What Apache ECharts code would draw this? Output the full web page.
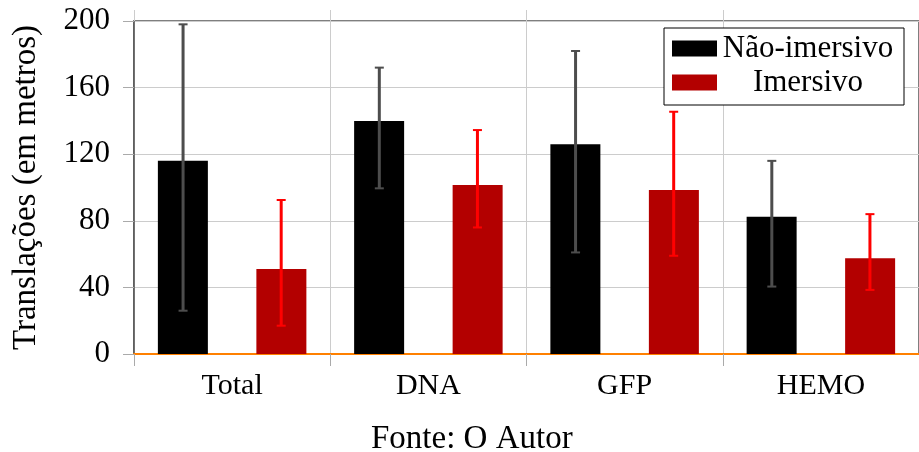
<!DOCTYPE html>
<html>
<head>
<meta charset="utf-8">
<script src="https://cdn.jsdelivr.net/npm/echarts@6/dist/echarts.min.js"></script>
<style>
  html, body { margin: 0; padding: 0; background: #fff; }
  #chart { width: 919px; height: 452px; }
</style>
</head>
<body>
<div id="chart"></div>
<script>
// categorias e valores
var categorias = ['Total', 'DNA', 'GFP', 'HEMO']
var naoImersivo = [116, 140, 126, 82.5]
var naoImersivoMin = [26, 99.5, 61, 40.5]
var naoImersivoMax = [198, 172, 182, 116]
var imersivo = [51, 101.5, 98.5, 57.5]
var imersivoMin = [17, 76, 59, 38.5]
var imersivoMax = [92.5, 134.5, 145.5, 84]
var yTicks = [0, 40, 80, 120, 160, 200]

var fonte = "'Liberation Serif', 'Times New Roman', serif"

function erroData (lo, hi) {
  var out = []
  for (var i = 0; i < categorias.length; i++) {
    out.push([i, lo[i], hi[i]])
  }
  return out
}

// barras de erro desenhadas com a escala do eixo
function barraErro (lado, cor) {
  return function (params, api) {
    var banda = api.size([1, 0])[0]
    var x = api.coord([api.value(0), 0])[0] + lado * banda * 0.25
    var yLo = api.coord([api.value(0), api.value(1)])[1]
    var yHi = api.coord([api.value(0), api.value(2)])[1]
    var cap = 4.5
    var estilo = { stroke: cor, lineWidth: 3 }
    var estiloCap = { stroke: cor, lineWidth: 2 }
    return {
      type: 'group',
      children: [
        { type: 'line', shape: { x1: x, y1: yLo, x2: x, y2: yHi }, style: estilo },
        { type: 'line', shape: { x1: x - cap, y1: yHi, x2: x + cap, y2: yHi }, style: estiloCap },
        { type: 'line', shape: { x1: x - cap, y1: yLo, x2: x + cap, y2: yLo }, style: estiloCap }
      ]
    }
  }
}

var chart = echarts.init(document.getElementById('chart'))
var option = {
  animation: false,
  textStyle: { fontFamily: fonte },
  title: {
    text: 'Fonte: O Autor',
    left: 366,
    top: 418,
    textStyle: { fontFamily: fonte, fontSize: 33, fontWeight: 'normal', color: '#000' }
  },
  grid: {
    left: 134,
    top: 21,
    right: -3,
    bottom: 98,
    show: true,
    borderColor: '#555',
    borderWidth: 1.5,
    backgroundColor: 'transparent'
  },
  legend: {
    orient: 'vertical',
    left: 664,
    top: 28,
    padding: [5, 8, 7, 8],
    itemGap: 3,
    itemWidth: 45,
    itemHeight: 16,
    itemStyle: { borderWidth: 0 },
    backgroundColor: '#fff',
    borderColor: '#000',
    borderWidth: 1,
    borderRadius: 0,
    icon: 'rect',
    formatter: function (name) { return '{t|' + name + '}' },
    textStyle: {
      fontFamily: fonte,
      fontSize: 31,
      color: '#000',
      padding: [0, 0, 0, -2],
      rich: { t: { width: 176, align: 'center', fontSize: 31, lineHeight: 29, fontFamily: fonte } }
    },
    data: ['Não-imersivo', 'Imersivo']
  },
  xAxis: [
    {
      type: 'category',
      data: categorias,
      axisLine: { show: true, lineStyle: { color: '#ff8000', width: 2 } },
      axisTick: { show: true, length: 12, lineStyle: { color: '#aaa' } },
      axisLabel: { fontFamily: fonte, fontSize: 30, color: '#000', margin: 17 },
      splitLine: { show: true, lineStyle: { color: '#ccc', width: 1 } }
    },
    {
      type: 'category',
      position: 'top',
      data: categorias,
      axisLine: { show: false },
      axisTick: { show: true, length: 11, lineStyle: { color: '#ccc' } },
      axisLabel: { show: false },
      splitLine: { show: false }
    }
  ],
  yAxis: {
    type: 'value',
    min: yTicks[0],
    max: yTicks[yTicks.length - 1],
    interval: 40,
    name: 'Translações (em metros)',
    nameLocation: 'middle',
    nameGap: 91,
    nameTextStyle: { fontFamily: fonte, fontSize: 33, color: '#000' },
    axisLine: { show: true, lineStyle: { color: '#555', width: 1.5 } },
    axisTick: { show: true, length: 11, lineStyle: { color: '#aaa' } },
    axisLabel: { fontFamily: fonte, fontSize: 31, color: '#000', margin: 24 },
    splitLine: { show: true, lineStyle: { color: '#ccc', width: 1 } }
  },
  series: [
    {
      name: 'Não-imersivo',
      type: 'bar',
      barWidth: 50,
      barGap: '97%',
      itemStyle: { color: '#000' },
      data: naoImersivo
    },
    {
      name: 'Imersivo',
      type: 'bar',
      barWidth: 50,
      barGap: '97%',
      itemStyle: { color: '#b30000' },
      data: imersivo
    },
    {
      type: 'custom',
      renderItem: barraErro(-1, '#4d4d4d'),
      data: erroData(naoImersivoMin, naoImersivoMax),
      z: 5
    },
    {
      type: 'custom',
      renderItem: barraErro(1, '#ff0000'),
      data: erroData(imersivoMin, imersivoMax),
      z: 5
    }
  ]
}
chart.setOption(option)
</script>
</body>
</html>
